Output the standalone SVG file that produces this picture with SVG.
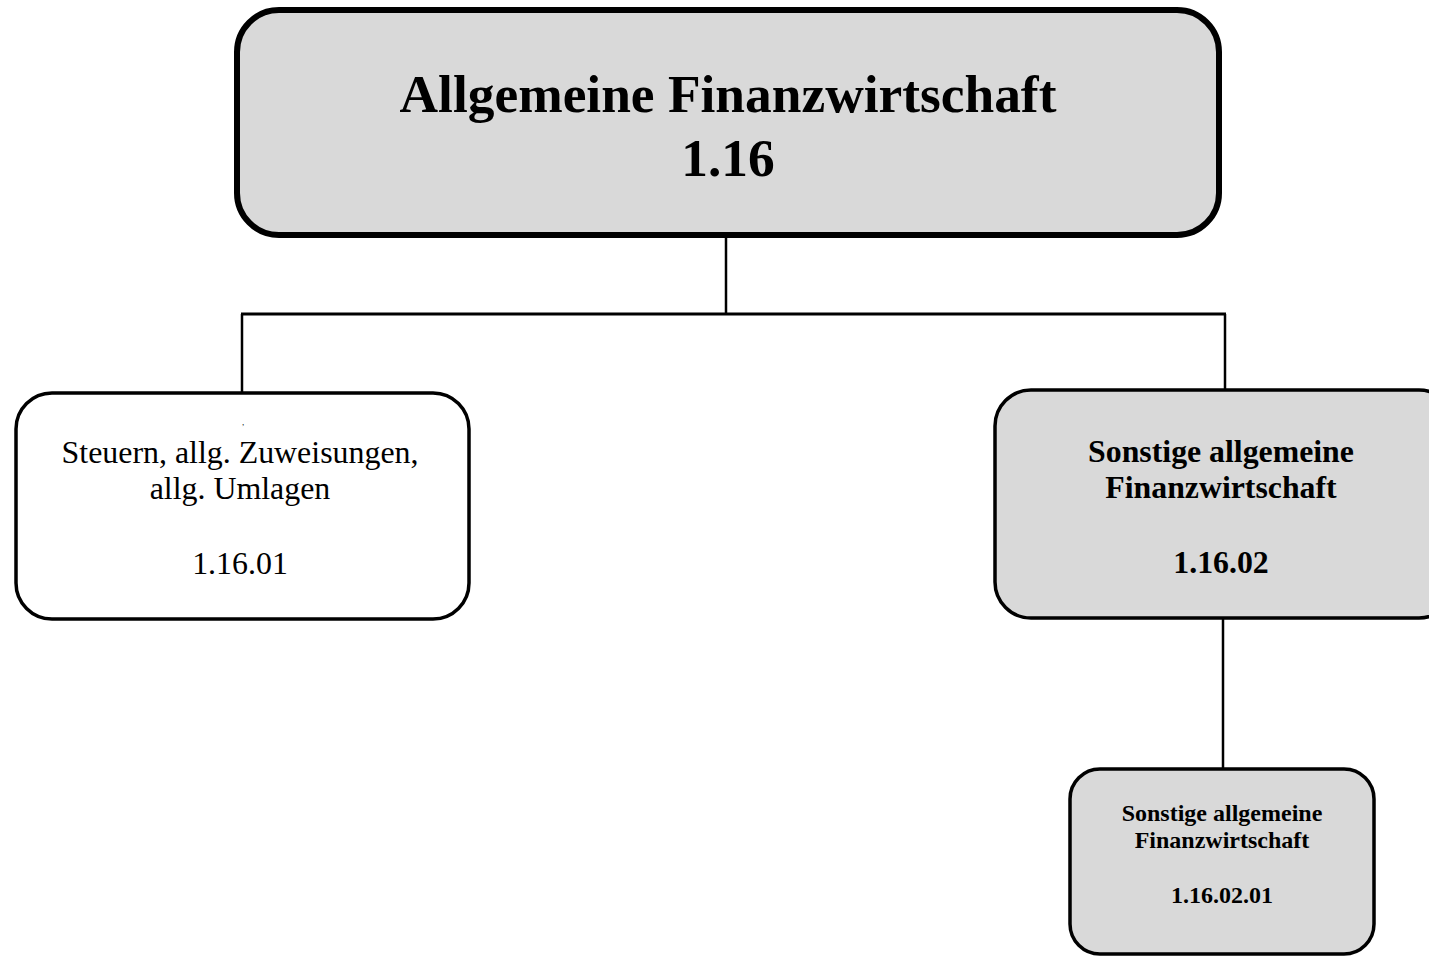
<svg xmlns="http://www.w3.org/2000/svg" width="1429" height="956" viewBox="0 0 1429 956">
<style>
.box{stroke:#000;stroke-width:3.5}
.gray{fill:#d9d9d9}
.white{fill:#fff}
.t{font-family:"Liberation Serif","Times New Roman",serif;text-anchor:middle;fill:#000}
.b{font-weight:bold}
.conn{stroke:#000;fill:none}
</style>
<rect width="1429" height="956" fill="#fff"/>
<g id="connectors">
<line class="conn" x1="726" y1="236" x2="726" y2="314" stroke-width="2.5"/>
<line class="conn" x1="241" y1="314" x2="1226" y2="314" stroke-width="3"/>
<line class="conn" x1="242" y1="314" x2="242" y2="393" stroke-width="2.5"/>
<line class="conn" x1="1225" y1="314" x2="1225" y2="390" stroke-width="2.5"/>
<line class="conn" x1="1223" y1="618" x2="1223" y2="769" stroke-width="2.5"/>
</g>
<g id="root">
<rect class="gray" x="237" y="10" width="982" height="225" rx="42" ry="42" stroke="#000" stroke-width="6"/>
<text class="t b" x="728" y="112" font-size="53.4">Allgemeine Finanzwirtschaft</text>
<text class="t b" x="728" y="176" font-size="53.4">1.16</text>
</g>
<g id="n1601">
<rect class="box white" x="16" y="393" width="453" height="226" rx="36" ry="36"/>
<text class="t" x="243" y="430" font-size="8">’</text>
<text class="t" x="240" y="463" font-size="31.9">Steuern, allg. Zuweisungen,</text>
<text class="t" x="240" y="499" font-size="31.9">allg. Umlagen</text>
<text class="t" x="240" y="574" font-size="31.9">1.16.01</text>
</g>
<g id="n1602">
<rect class="box gray" x="995" y="390" width="460" height="228" rx="36" ry="36"/>
<text class="t b" x="1221" y="462" font-size="31.8">Sonstige allgemeine</text>
<text class="t b" x="1221" y="498" font-size="31.8">Finanzwirtschaft</text>
<text class="t b" x="1221" y="573" font-size="31.8">1.16.02</text>
</g>
<g id="n160201">
<rect class="box gray" x="1070" y="769" width="304" height="185" rx="30" ry="30"/>
<text class="t b" x="1222" y="821" font-size="24">Sonstige allgemeine</text>
<text class="t b" x="1222" y="848" font-size="24">Finanzwirtschaft</text>
<text class="t b" x="1222" y="903" font-size="24">1.16.02.01</text>
</g>
</svg>
